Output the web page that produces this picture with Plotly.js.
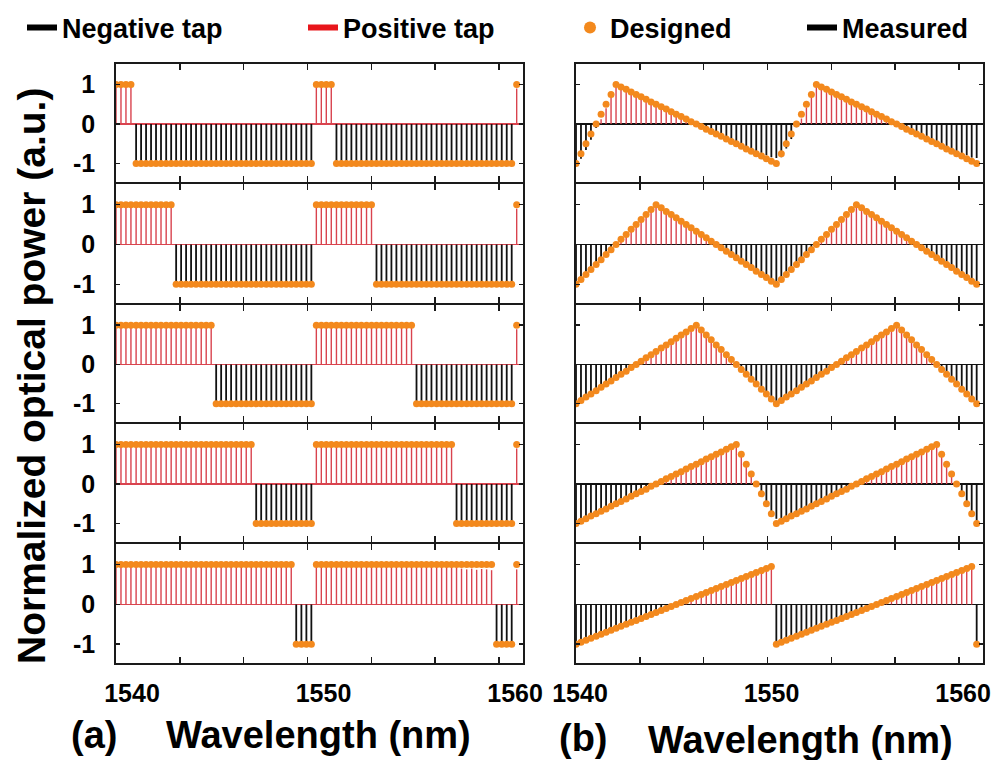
<!DOCTYPE html>
<html>
<head>
<meta charset="utf-8">
<script src="https://cdn.plot.ly/plotly-3.0.1.min.js"></script>
<style>html,body{margin:0;padding:0;background:#fff;}#chart{width:991px;height:760px;}</style>
</head>
<body>
<div id="chart"></div>
<script>
// ---------------- DATA ----------------
const wavelength = [1540.00,1540.26,1540.52,1540.78,1541.05,1541.31,1541.57,1541.83,1542.09,1542.35,
1542.62,1542.88,1543.14,1543.40,1543.66,1543.92,1544.18,1544.45,1544.71,1544.97,
1545.23,1545.49,1545.75,1546.01,1546.28,1546.54,1546.80,1547.06,1547.32,1547.58,
1547.85,1548.11,1548.37,1548.63,1548.89,1549.15,1549.41,1549.68,1549.94,1550.20,
1550.46,1550.72,1550.98,1551.24,1551.51,1551.77,1552.03,1552.29,1552.55,1552.81,
1553.08,1553.34,1553.60,1553.86,1554.12,1554.38,1554.64,1554.91,1555.17,1555.43,
1555.69,1555.95,1556.21,1556.47,1556.74,1557.00,1557.26,1557.52,1557.78,1558.04,
1558.31,1558.57,1558.83,1559.09,1559.35,1559.61,1559.87,1560.14,1560.40,1560.66,
1560.92];

// (a) designed binary taps
const designedA1 = [1,1,1,1,-1,-1,-1,-1,-1,-1, -1,-1,-1,-1,-1,-1,-1,-1,-1,-1, -1,-1,-1,-1,-1,-1,-1,-1,-1,-1, -1,-1,-1,-1,-1,-1,-1,-1,-1,-1,
 1,1,1,1,-1,-1,-1,-1,-1,-1, -1,-1,-1,-1,-1,-1,-1,-1,-1,-1, -1,-1,-1,-1,-1,-1,-1,-1,-1,-1, -1,-1,-1,-1,-1,-1,-1,-1,-1,-1, 1];
const designedA2 = [1,1,1,1,1,1,1,1,1,1, 1,1,-1,-1,-1,-1,-1,-1,-1,-1, -1,-1,-1,-1,-1,-1,-1,-1,-1,-1, -1,-1,-1,-1,-1,-1,-1,-1,-1,-1,
 1,1,1,1,1,1,1,1,1,1, 1,1,-1,-1,-1,-1,-1,-1,-1,-1, -1,-1,-1,-1,-1,-1,-1,-1,-1,-1, -1,-1,-1,-1,-1,-1,-1,-1,-1,-1, 1];
const designedA3 = [1,1,1,1,1,1,1,1,1,1, 1,1,1,1,1,1,1,1,1,1, -1,-1,-1,-1,-1,-1,-1,-1,-1,-1, -1,-1,-1,-1,-1,-1,-1,-1,-1,-1,
 1,1,1,1,1,1,1,1,1,1, 1,1,1,1,1,1,1,1,1,1, -1,-1,-1,-1,-1,-1,-1,-1,-1,-1, -1,-1,-1,-1,-1,-1,-1,-1,-1,-1, 1];
const designedA4 = [1,1,1,1,1,1,1,1,1,1, 1,1,1,1,1,1,1,1,1,1, 1,1,1,1,1,1,1,1,-1,-1, -1,-1,-1,-1,-1,-1,-1,-1,-1,-1,
 1,1,1,1,1,1,1,1,1,1, 1,1,1,1,1,1,1,1,1,1, 1,1,1,1,1,1,1,1,-1,-1, -1,-1,-1,-1,-1,-1,-1,-1,-1,-1, 1];
const designedA5 = [1,1,1,1,1,1,1,1,1,1, 1,1,1,1,1,1,1,1,1,1, 1,1,1,1,1,1,1,1,1,1, 1,1,1,1,1,1,-1,-1,-1,-1,
 1,1,1,1,1,1,1,1,1,1, 1,1,1,1,1,1,1,1,1,1, 1,1,1,1,1,1,1,1,1,1, 1,1,1,1,1,1,-1,-1,-1,-1, 1];

// (a) measured taps
const measuredA1 = [.97,.99,.96,.98,-1.02,-.98,-1.03,-.97,-1.01,-.99, -1.04,-.98,-1,-1.03,-.97,-1.02,-.99,-1.01,-1.03,-.98,
 -1,-1.02,-.97,-1.01,-.99,-1.03,-.98,-1,-1.02,-.99, -.97,-1.01,-1,-.98,-1.02,-.99,-1.01,-.97,-1,-.98,
 .98,.97,.99,.96,-1.01,-.99,-1.02,-.98,-1,-1.03, -.97,-1.01,-.99,-1.02,-.98,-1,-1.01,-.97,-1.02,-.99,
 -1,-.98,-1.01,-.97,-.99,-1.02,-.98,-1,-.97,-.99, -.98,-1.01,-.97,-.99,-.98,-1,-.97,-.99,-.98,-.96, .9];
const measuredA2 = [.98,.97,.99,.96,.98,.97,.99,.98,.96,.98, .97,.99,-1.01,-.99,-1.02,-.98,-1,-1.03,-.97,-1.01,
 -.99,-1.02,-.98,-1,-1.01,-.97,-1.02,-.99,-1,-.98, -1.01,-.97,-1.02,-.99,-1,-.98,-1.01,-.97,-.99,-1.02,
 .97,.98,.96,.99,.97,.98,.95,.97,.98,.96, .97,.95,-1,-.98,-1.01,-.97,-.99,-1.02,-.98,-1,
 -.97,-1.01,-.99,-.98,-1,-.97,-.99,-1.01,-.98,-.97, -.99,-.98,-1,-.97,-.99,-.98,-.96,-.99,-.97,-.98, .9];
const measuredA3 = [.98,.97,.99,.96,.98,.97,.99,.98,.96,.98, .97,.99,.98,.96,.97,.99,.98,.97,.96,.98,
 -1.01,-.99,-1.02,-.98,-1,-1.03,-.97,-1.01,-.99,-1.02, -.98,-1,-1.01,-.97,-1.02,-.99,-1,-.98,-1.01,-.99,
 .97,.98,.96,.99,.97,.98,.95,.97,.98,.96, .97,.95,.98,.96,.97,.95,.96,.98,.95,.97,
 -1,-.98,-1.01,-.97,-.99,-1.02,-.98,-1,-.97,-.99, -1.01,-.98,-.97,-.99,-1,-.98,-.97,-.99,-.98,-.97, .9];
const measuredA4 = [.98,.97,.99,.96,.98,.97,.99,.98,.96,.98, .97,.99,.98,.96,.97,.99,.98,.97,.96,.98,
 .97,.98,.96,.99,.97,.98,.97,.96,-1.01,-.99, -1.02,-.98,-1,-1.03,-.97,-1.01,-.99,-1.02,-.98,-1,
 .97,.98,.96,.99,.97,.98,.95,.97,.98,.96, .97,.95,.98,.96,.97,.95,.96,.98,.95,.97,
 .96,.94,.97,.95,.96,.97,.95,.94,-1,-.98, -1.01,-.97,-.99,-1.02,-.98,-1,-.97,-.99,-1.01,-.98, .9];
const measuredA5 = [.98,.97,.99,.96,.98,.97,.99,.98,.96,.98, .97,.99,.98,.96,.97,.99,.98,.97,.96,.98,
 .97,.98,.96,.99,.97,.98,.97,.96,.98,.97, .96,.98,.97,.95,.97,.96,-1.01,-.99,-1.02,-.98,
 .97,.98,.96,.99,.97,.98,.95,.97,.98,.96, .97,.95,.98,.96,.97,.95,.96,.98,.95,.97,
 .96,.94,.97,.95,.96,.97,.95,.94,.93,.9, .88,.9,.87,.89,.88,.86,-1,-.98,-1.01,-.99, .88];

// (b) designed sawtooth / triangle taps
const designedB1 = [-1,-0.75,-0.5,-0.25,0,0.25,0.5,0.75,1,0.94,0.88,0.81,0.75,0.69,0.63,0.56,0.5,0.44,0.38,0.31,0.25,0.19,0.13,0.06,0,-0.06,-0.13,-0.19,-0.25,-0.31,-0.38,-0.44,-0.5,-0.56,-0.63,-0.69,-0.75,-0.81,-0.88,-0.94,
 -1,-0.75,-0.5,-0.25,0,0.25,0.5,0.75,1,0.94,0.88,0.81,0.75,0.69,0.63,0.56,0.5,0.44,0.38,0.31,0.25,0.19,0.13,0.06,0,-0.06,-0.13,-0.19,-0.25,-0.31,-0.38,-0.44,-0.5,-0.56,-0.63,-0.69,-0.75,-0.81,-0.88,-0.94, -1];
const designedB2 = [-1,-0.88,-0.75,-0.63,-0.5,-0.38,-0.25,-0.13,0,0.13,0.25,0.38,0.5,0.63,0.75,0.88,1,0.92,0.83,0.75,0.67,0.58,0.5,0.42,0.33,0.25,0.17,0.08,0,-0.08,-0.17,-0.25,-0.33,-0.42,-0.5,-0.58,-0.67,-0.75,-0.83,-0.92,
 -1,-0.88,-0.75,-0.63,-0.5,-0.38,-0.25,-0.13,0,0.13,0.25,0.38,0.5,0.63,0.75,0.88,1,0.92,0.83,0.75,0.67,0.58,0.5,0.42,0.33,0.25,0.17,0.08,0,-0.08,-0.17,-0.25,-0.33,-0.42,-0.5,-0.58,-0.67,-0.75,-0.83,-0.92, -1];
const designedB3 = [-1,-0.92,-0.83,-0.75,-0.67,-0.58,-0.5,-0.42,-0.33,-0.25,-0.17,-0.08,0,0.08,0.17,0.25,0.33,0.42,0.5,0.58,0.67,0.75,0.83,0.92,1,0.88,0.75,0.63,0.5,0.38,0.25,0.13,0,-0.13,-0.25,-0.38,-0.5,-0.63,-0.75,-0.88,
 -1,-0.92,-0.83,-0.75,-0.67,-0.58,-0.5,-0.42,-0.33,-0.25,-0.17,-0.08,0,0.08,0.17,0.25,0.33,0.42,0.5,0.58,0.67,0.75,0.83,0.92,1,0.88,0.75,0.63,0.5,0.38,0.25,0.13,0,-0.13,-0.25,-0.38,-0.5,-0.63,-0.75,-0.88, -1];
const designedB4 = [-1,-0.94,-0.88,-0.81,-0.75,-0.69,-0.63,-0.56,-0.5,-0.44,-0.38,-0.31,-0.25,-0.19,-0.13,-0.06,0,0.06,0.13,0.19,0.25,0.31,0.38,0.44,0.5,0.56,0.63,0.69,0.75,0.81,0.88,0.94,1,0.75,0.5,0.25,0,-0.25,-0.5,-0.75,
 -1,-0.94,-0.88,-0.81,-0.75,-0.69,-0.63,-0.56,-0.5,-0.44,-0.38,-0.31,-0.25,-0.19,-0.13,-0.06,0,0.06,0.13,0.19,0.25,0.31,0.38,0.44,0.5,0.56,0.63,0.69,0.75,0.81,0.88,0.94,1,0.75,0.5,0.25,0,-0.25,-0.5,-0.75, -1];
const designedB5 = [-1,-0.95,-0.9,-0.85,-0.8,-0.75,-0.7,-0.65,-0.6,-0.55,-0.5,-0.45,-0.4,-0.35,-0.3,-0.25,-0.2,-0.15,-0.1,-0.05,0,0.05,0.1,0.15,0.2,0.25,0.3,0.35,0.4,0.45,0.5,0.55,0.6,0.65,0.7,0.75,0.8,0.85,0.9,0.95,
 -1,-0.95,-0.9,-0.85,-0.8,-0.75,-0.7,-0.65,-0.6,-0.55,-0.5,-0.45,-0.4,-0.35,-0.3,-0.25,-0.2,-0.15,-0.1,-0.05,0,0.05,0.1,0.15,0.2,0.25,0.3,0.35,0.4,0.45,0.5,0.55,0.6,0.65,0.7,0.75,0.8,0.85,0.9,0.95, -1];

// (b) measured taps
const measuredB1 = [-1,-0.88,-0.66,-0.4,-0.1,0.12,0.4,0.7,0.98,0.93,0.87,0.8,0.75,0.68,0.62,0.56,0.5,0.43,0.37,0.3,0.25,0.18,0.12,0.05,0,-0.05,-0.12,-0.18,-0.24,-0.3,-0.36,-0.41,-0.47,-0.52,-0.58,-0.63,-0.68,-0.73,-0.79,-0.84,
 -0.86,-0.84,-0.62,-0.38,-0.08,0.14,0.42,0.72,0.99,0.94,0.88,0.81,0.74,0.69,0.63,0.55,0.5,0.44,0.37,0.31,0.24,0.19,0.12,0.06,0,-0.06,-0.12,-0.18,-0.24,-0.3,-0.36,-0.42,-0.47,-0.53,-0.58,-0.64,-0.69,-0.74,-0.79,-0.85, -0.86];
const measuredB2 = [-1,-0.86,-0.74,-0.6,-0.48,-0.36,-0.24,-0.12,0.02,0.14,0.26,0.38,0.5,0.62,0.74,0.87,0.98,0.91,0.82,0.74,0.66,0.57,0.49,0.41,0.32,0.24,0.16,0.07,0,-0.07,-0.15,-0.23,-0.31,-0.4,-0.48,-0.56,-0.64,-0.72,-0.8,-0.88,
 -0.95,-0.87,-0.75,-0.61,-0.49,-0.37,-0.24,-0.11,0.01,0.13,0.25,0.37,0.49,0.62,0.73,0.86,0.97,0.9,0.82,0.74,0.65,0.57,0.48,0.4,0.32,0.24,0.15,0.07,0,-0.07,-0.15,-0.23,-0.31,-0.39,-0.47,-0.55,-0.63,-0.71,-0.79,-0.86, -0.95];
const measuredB3 = [-0.98,-0.9,-0.82,-0.73,-0.65,-0.57,-0.49,-0.4,-0.32,-0.24,-0.16,-0.07,0.01,0.09,0.17,0.25,0.33,0.41,0.49,0.57,0.65,0.73,0.81,0.9,0.98,0.86,0.74,0.61,0.49,0.37,0.24,0.12,0,-0.12,-0.24,-0.36,-0.48,-0.6,-0.72,-0.84,
 -0.96,-0.9,-0.81,-0.74,-0.66,-0.57,-0.49,-0.41,-0.32,-0.24,-0.16,-0.08,0.01,0.09,0.17,0.25,0.33,0.41,0.5,0.58,0.66,0.74,0.82,0.9,0.97,0.86,0.73,0.61,0.49,0.36,0.24,0.12,-0.01,-0.12,-0.24,-0.36,-0.48,-0.6,-0.72,-0.84, -0.96];
const measuredB4 = [-0.98,-0.92,-0.86,-0.8,-0.74,-0.68,-0.62,-0.55,-0.49,-0.43,-0.37,-0.3,-0.24,-0.18,-0.12,-0.05,0.01,0.07,0.13,0.19,0.25,0.31,0.37,0.43,0.49,0.55,0.61,0.68,0.74,0.8,0.86,0.92,0.98,0.72,0.46,0.2,-0.04,-0.28,-0.5,-0.72,
 -0.88,-0.86,-0.83,-0.79,-0.74,-0.68,-0.62,-0.56,-0.5,-0.44,-0.37,-0.31,-0.25,-0.18,-0.12,-0.06,0,0.06,0.12,0.19,0.25,0.31,0.37,0.43,0.49,0.55,0.62,0.68,0.74,0.8,0.86,0.92,0.97,0.73,0.47,0.22,-0.03,-0.27,-0.5,-0.73, -0.95];
const measuredB5 = [-0.98,-0.94,-0.89,-0.84,-0.79,-0.74,-0.69,-0.64,-0.59,-0.54,-0.49,-0.44,-0.39,-0.34,-0.29,-0.24,-0.19,-0.14,-0.09,-0.04,0.01,0.06,0.11,0.16,0.21,0.26,0.31,0.36,0.41,0.46,0.51,0.56,0.61,0.66,0.71,0.76,0.81,0.86,0.91,0.95,
 -0.97,-0.93,-0.88,-0.84,-0.79,-0.74,-0.69,-0.64,-0.59,-0.54,-0.49,-0.44,-0.39,-0.34,-0.29,-0.24,-0.19,-0.14,-0.09,-0.04,0.01,0.06,0.11,0.16,0.21,0.26,0.31,0.36,0.41,0.46,0.51,0.56,0.61,0.66,0.71,0.76,0.81,0.86,0.9,0.94, -0.95];

const xTickVals = [1540, 1543.333, 1546.667, 1550, 1553.333, 1556.667, 1560];
const xTickText = ['1540', '', '', '1550', '', '', '1560'];
const yTickVals = [-1, 0, 1];
const yTickText = ['-1', '0', '1'];
const legendNames = ['Negative tap', 'Positive tap', 'Designed', 'Measured'];

// ---------------- STYLE / LAYOUT ----------------
const FONT = 'Liberation Sans, Arial, Helvetica, sans-serif';
const W = 991, H = 760;
const LW = 1.8;
const boundsPx = [64, 183, 304, 423, 543, 663];
const colsPx = [[116,523],[576,983]];
const RED = '#d9434e', BLACK = '#111111', ORANGE = '#f3891d', FRAME = '#1a1a1a';

const designed = [[designedA1,designedA2,designedA3,designedA4,designedA5],[designedB1,designedB2,designedB3,designedB4,designedB5]];
const measured = [[measuredA1,measuredA2,measuredA3,measuredA4,measuredA5],[measuredB1,measuredB2,measuredB3,measuredB4,measuredB5]];

function stems(xs, ys, positive) {
  const x = [], y = [];
  xs.forEach((xv, i) => {
    const v = ys[i];
    if (positive ? v > 0 : v < 0) { x.push(xv, xv, null); y.push(0, v, null); }
  });
  return {x, y};
}

const traces = [];
const layout = {
  width: W, height: H, autosize: false,
  margin: {l: 0, r: 0, t: 0, b: 0},
  paper_bgcolor: '#ffffff', plot_bgcolor: '#ffffff',
  font: {family: FONT, color: '#000'},
  showlegend: true,
  annotations: [],
};

for (let r = 0; r < 5; r++) {
  // shrink internal edges by half a line width so neighbouring frames coincide
  const topPx = boundsPx[r] + (r > 0 ? LW / 2 : 0);
  const botPx = boundsPx[r + 1] - (r < 4 ? LW / 2 : 0);
  for (let c = 0; c < 2; c++) {
    const n = r * 2 + c + 1;
    const xk = n === 1 ? 'xaxis' : 'xaxis' + n;
    const yk = n === 1 ? 'yaxis' : 'yaxis' + n;
    const xr = n === 1 ? 'x' : 'x' + n;
    const yr = n === 1 ? 'y' : 'y' + n;
    layout[xk] = {
      domain: [colsPx[c][0] / W, colsPx[c][1] / W],
      anchor: yr, range: [1540, 1561.25],
      tickmode: 'array', tickvals: xTickVals, ticktext: xTickText,
      ticks: 'inside', ticklen: 6, tickwidth: 1.6, tickcolor: FRAME,
      showline: true, mirror: 'ticks', linecolor: FRAME, linewidth: LW,
      showgrid: false, zeroline: false,
      showticklabels: r === 4,
      tickfont: {family: FONT, size: 25, weight: 700, color: '#000'},
      ticklabelshift: c === 0 ? 16 : 4,
      ticklabelstandoff: 7,
      ticklabeloverflow: 'allow',
      fixedrange: true,
    };
    layout[yk] = {
      domain: [1 - botPx / H, 1 - topPx / H],
      anchor: xr, range: [-1.47, 1.52],
      tickmode: 'array', tickvals: yTickVals, ticktext: yTickText,
      ticks: 'inside', ticklen: 4, tickwidth: 1.6, tickcolor: FRAME,
      showline: true, mirror: 'ticks', linecolor: FRAME, linewidth: LW,
      showgrid: false,
      zeroline: true, zerolinecolor: c === 0 ? RED : BLACK, zerolinewidth: 1.6,
      showticklabels: c === 0,
      tickfont: {family: FONT, size: 25, weight: 700, color: '#000'},
      ticklabelstandoff: 14,
      fixedrange: true,
    };
    const m = measured[c][r], d = designed[c][r];
    const neg = stems(wavelength, m, false);
    const pos = stems(wavelength, m, true);
    traces.push({x: neg.x, y: neg.y, xaxis: xr, yaxis: yr, mode: 'lines', line: {color: BLACK, width: 1.8}, showlegend: false, hoverinfo: 'skip'});
    traces.push({x: pos.x, y: pos.y, xaxis: xr, yaxis: yr, mode: 'lines', line: {color: RED, width: 1.4}, showlegend: false, hoverinfo: 'skip'});
    traces.push({x: wavelength, y: d, xaxis: xr, yaxis: yr, mode: 'markers', marker: {color: ORANGE, size: 7, line: {width: 0}}, showlegend: false});
  }
}

// legend entries (four independent legends across the top)
const legendKeys = ['legend', 'legend2', 'legend3', 'legend4'];
const legendX = [22, 303, 570, 802];
const legendStyle = [
  {mode: 'lines', line: {color: '#000', width: 6}},
  {mode: 'lines', line: {color: '#e8161b', width: 6}},
  {mode: 'markers', marker: {color: ORANGE, size: 12}},
  {mode: 'lines', line: {color: '#000', width: 6}},
];
legendNames.forEach((name, i) => {
  traces.push(Object.assign({x: [null], y: [null], xaxis: 'x', yaxis: 'y', name: name, legend: legendKeys[i], showlegend: true, hoverinfo: 'skip'}, legendStyle[i]));
  layout[legendKeys[i]] = {
    x: legendX[i] / W, y: 1 - 28 / H, xanchor: 'left', yanchor: 'middle',
    orientation: 'h', bgcolor: 'rgba(0,0,0,0)', borderwidth: 0,
    font: {family: FONT, size: 27, weight: 700, color: '#000'},
  };
});

function note(text, xPx, yPx, size, angle) {
  return {xref: 'paper', yref: 'paper', x: xPx / W, y: 1 - yPx / H, xanchor: 'center', yanchor: 'middle',
    text: text, textangle: angle || 0, showarrow: false, font: {family: FONT, size: size, weight: 700, color: '#000'}};
}
layout.annotations.push(
  note('Normalized optical power (a.u.)', 31, 376, 39, -90),
  note('(a)', 94, 735, 38),
  note('Wavelength (nm)', 318, 735, 38),
  note('(b)', 583, 738, 38),
  note('Wavelength (nm)', 800, 740, 38)
);

Plotly.newPlot('chart', traces, layout, {displayModeBar: false, staticPlot: true});
</script>
</body>
</html>
